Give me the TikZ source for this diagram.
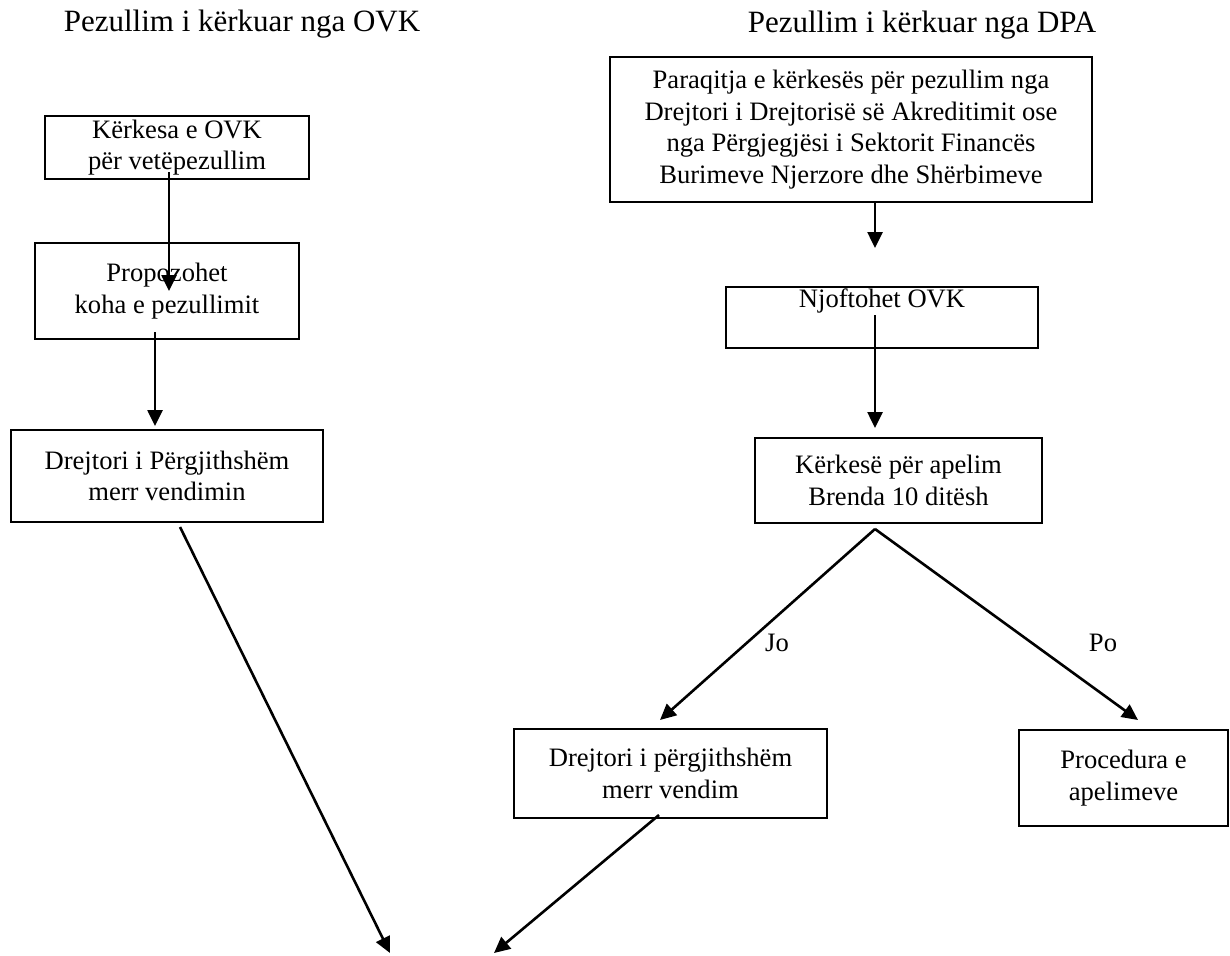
\documentclass[tikz,border=0pt]{standalone}
\usepackage{fontspec}
\setmainfont{Liberation Serif}
\usetikzlibrary{arrows.meta}
\begin{document}
\begin{tikzpicture}[x=1pt,y=-1pt,
  box/.style={draw, line width=2.6pt, inner sep=0pt, align=center,
    font=\fontsize{26.6}{31.7}\selectfont},
  arr/.style={line width=2.6pt, -{Triangle[length=16pt,width=15pt]}},
  lbl/.style={font=\fontsize{26.6}{31.7}\selectfont, inner sep=0pt},
  ttl/.style={font=\fontsize{31}{36}\selectfont, inner sep=0pt}]
\useasboundingbox (0,0) rectangle (1230,955);

% titles
\node[ttl, anchor=base] (t1) at (242,32) {Pezullim i kërkuar nga OVK};
\node[ttl, anchor=base] (t2) at (922,33) {Pezullim i kërkuar nga DPA};

% left column
\node[box, minimum width=264pt, minimum height=63pt] (A) at (177,147.5)
  {Kërkesa e OVK\\ për vetëpezullim};
\node[box, minimum width=264pt, minimum height=96pt] (B) at (167,291)
  {Propozohet\\koha e pezullimit};
\node[box, minimum width=312pt, minimum height=92pt] (C) at (167,476)
  {Drejtori i Përgjithshëm\\merr vendimin};

% right column
\node[box, minimum width=482pt, minimum height=145pt] (P) at (851,129.5)
  {Paraqitja e kërkesës për pezullim nga\\Drejtori i Drejtorisë së Akreditimit ose\\nga Përgjegjësi i Sektorit Financës\\Burimeve Njerzore dhe Shërbimeve};
\node[box, minimum width=312pt, minimum height=61pt] (N) at (882,317.5)
  {Njoftohet OVK\\[-2pt]\strut};
\node[box, minimum width=287pt, minimum height=85pt] (K) at (898.5,480.5)
  {Kërkesë për apelim\\Brenda 10 ditësh};
\node[box, minimum width=313pt, minimum height=89pt] (D) at (670.5,773.5)
  {Drejtori i përgjithshëm\\merr vendim};
\node[box, minimum width=209pt, minimum height=96pt] (R) at (1123.5,778)
  {Procedura e\\apelimeve};

% connector end points
\coordinate (a1) at (169,172);
\coordinate (b0) at (169,291);
\coordinate (b1) at (155,332);
\coordinate (c0) at (155,426);
\coordinate (c1) at (180,527);
\coordinate (e1) at (390,953);
\coordinate (p1) at (875,202);
\coordinate (n0) at (875,248);
\coordinate (n1) at (875,315);
\coordinate (k0) at (875,428);
\coordinate (k1) at (875,529);
\coordinate (d0) at (660,720);
\coordinate (r0) at (1138,720);
\coordinate (d1) at (659,815);
\coordinate (e2) at (494,953);

\draw[arr] (a1) -- (b0);
\draw[arr] (b1) -- (c0);
\draw[arr] (c1) -- (e1);
\draw[arr] (p1) -- (n0);
\draw[arr] (n1) -- (k0);
\draw[arr] (k1) -- (d0);
\draw[arr] (k1) -- (r0);
\draw[arr] (d1) -- (e2);

\node[lbl, anchor=base] (jo) at (777,651) {Jo};
\node[lbl, anchor=base] (po) at (1103,651) {Po};
\end{tikzpicture}
\end{document}
